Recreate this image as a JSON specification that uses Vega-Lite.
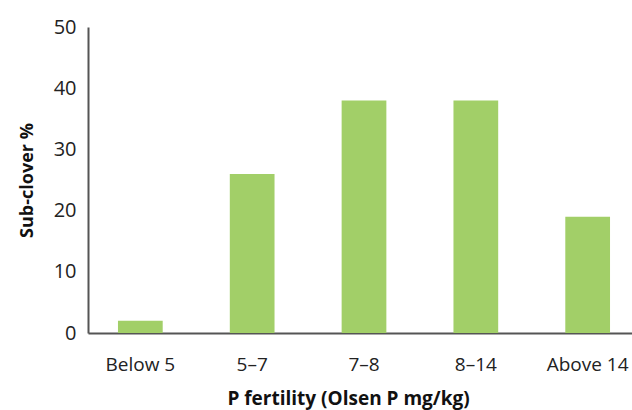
{
  "$schema": "https://vega.github.io/schema/vega-lite/v6.json",
  "autosize": {"type": "none"},
  "padding": {"left": 88, "top": 27, "right": 0, "bottom": 77},
  "width": 544,
  "height": 306,
  "background": "white",
  "data": {"values": [
    {"category": "Below 5", "value": 2},
    {"category": "5–7", "value": 26},
    {"category": "7–8", "value": 38},
    {"category": "8–14", "value": 38},
    {"category": "Above 14", "value": 19}
  ]},
  "mark": {"type": "bar", "color": "#a2cf68"},
  "encoding": {
    "x": {
      "field": "category", "type": "nominal", "sort": null,
      "scale": {"paddingInner": 0.6, "paddingOuter": 0.268, "range": [0, 552]},
      "axis": {
        "title": "P fertility (Olsen P mg/kg)",
        "labelAngle": 0, "ticks": false, "domainColor": "#555555", "domainWidth": 2,
        "labelFont": "Open Sans", "labelFontSize": 19, "labelColor": "#222222", "labelPadding": 22,
        "titleFont": "Open Sans", "titleFontSize": 19, "titleFontWeight": "bold", "titleColor": "#111111", "titlePadding": 15,
        "titleX": 260
      }
    },
    "y": {
      "field": "value", "type": "quantitative",
      "scale": {"domain": [0, 50]},
      "axis": {
        "title": "Sub-clover %", "values": [0, 10, 20, 30, 40, 50],
        "grid": false, "ticks": false, "domainColor": "#555555", "domainWidth": 2,
        "labelFont": "Open Sans", "labelFontSize": 20, "labelColor": "#222222", "labelPadding": 12,
        "titleFont": "Open Sans", "titleFontSize": 18, "titleFontWeight": "bold", "titleColor": "#111111", "titlePadding": 17
      }
    }
  },
  "config": {"view": {"stroke": null}}
}
